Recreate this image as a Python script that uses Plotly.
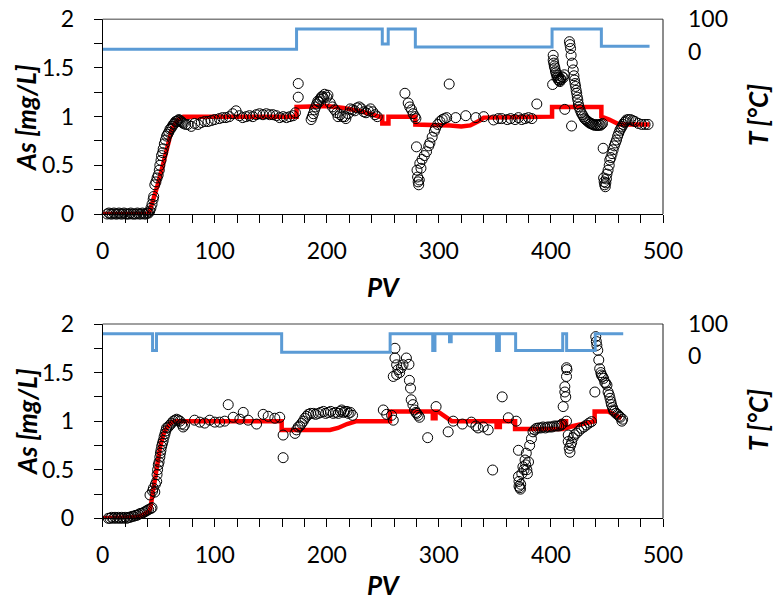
import plotly.graph_objects as go

# ---------------- TOP PANEL DATA ----------------
top_pv = [4, 5.5, 7, 8.5, 10, 11.5, 13, 14.5, 16, 17.5, 19, 20.5, 22, 23.5, 25, 26.5, 28, 29.5, 31, 32.5,
          34, 35.5, 37, 38.5, 40, 41,
          42, 43, 44, 45, 45.5, 46.5, 47.5, 48.5, 49.5, 50.5, 51, 52, 52.5, 53.5, 54, 55, 56, 57, 58, 59,
          60, 61, 62, 63, 64, 65, 66, 67, 68, 69, 70, 71, 72, 74,
          76, 79, 82, 85, 88, 91, 94, 97, 100, 104, 107, 110, 113, 116, 119, 122, 125, 128, 131, 134,
          137, 140, 143, 146, 149, 152, 155, 158, 161, 164, 167, 170, 172, 174.5, 174.5,
          186, 187, 188, 189, 190, 191, 192, 193, 194, 195, 196, 197, 198, 200, 201, 203, 205, 207, 209,
          210, 212, 214, 216, 217, 219, 221, 223, 225, 227, 229, 231, 233, 235, 237, 239, 241, 243, 245,
          269.7, 272.6, 274, 275.6, 277, 278.6, 279.5, 280, 280.5, 281, 281.5, 282, 282.5, 283, 284, 285,
          287, 289, 291, 292, 294, 296, 297, 299, 301, 303, 305, 307, 309.2, 315, 324, 333, 340, 348.8,
          353, 356, 361, 364, 368, 371, 374, 377, 380, 383, 387.4,
          401.5, 402, 402, 402.5, 403, 403.5, 404, 404.5, 405, 405.5, 406, 406.5, 407, 407.5, 408, 408.5,
          409, 410, 411, 412, 412.4, 416.5, 417, 417.5, 418, 418.4, 419, 419.9, 420.5, 421, 421.5, 422,
          422.5, 423, 423.5, 424, 424.5, 425, 426, 427, 428, 429, 430, 431, 432, 433, 434, 435, 436, 437,
          438, 439, 440, 441, 442, 443, 444, 445, 446,
          446.6, 447, 447.5, 448, 448.5, 449, 449.5, 450, 451, 452, 452.5, 453.5, 454.5, 455.5, 456.5,
          457.5, 458.5, 459.5, 460.5, 461.5, 462.5, 463.5, 464.4, 465.5, 466.5, 467.4, 469, 471, 473,
          475, 478, 481, 484, 486.7]
top_as = [0.0, 0.01, 0.0, 0.0, 0.01, 0.0, 0.0, 0.01, 0.0, 0.0, 0.01, 0.0, 0.0, 0.0, 0.01, 0.0, 0.0, 0.0, 0.01, 0.0,
          0.0, 0.01, 0.0, 0.0, 0.01, 0.01,
          0.03, 0.06, 0.1, 0.15, 0.18, 0.3, 0.33, 0.37, 0.4, 0.45, 0.5, 0.55, 0.6, 0.63, 0.67, 0.72, 0.76, 0.8, 0.82, 0.84,
          0.87, 0.88, 0.9, 0.92, 0.93, 0.95, 0.95, 0.96, 0.97, 0.96, 0.95, 0.94, 0.93, 0.92,
          0.92, 0.9, 0.93, 0.92, 0.94, 0.95, 0.95, 0.96, 0.97, 0.98, 0.99, 0.99, 1.0, 1.03, 1.06, 1.01, 0.99, 1.0, 1.01, 1.0,
          1.02, 1.03, 1.02, 1.03, 1.02, 1.02, 1.01, 0.99, 1.0, 0.99, 1.0, 1.01, 1.04, 1.2, 1.34,
          0.97, 1.0, 1.03, 1.07, 1.1, 1.13, 1.16, 1.15, 1.18, 1.2, 1.21, 1.19, 1.23, 1.2, 1.22, 1.14, 1.1, 1.07, 1.04,
          1.0, 1.02, 1.0, 1.0, 0.98, 1.03, 1.08, 1.07, 1.06, 1.09, 1.1, 1.08, 1.05, 1.04, 1.06, 1.08, 1.05, 1.02, 1.0,
          1.24, 1.14, 1.1, 1.07, 1.03, 1.0, 0.98, 0.69, 0.45, 0.38, 0.33, 0.3, 0.35, 0.52, 0.47, 0.56,
          0.6, 0.64, 0.7, 0.73, 0.79, 0.85, 0.88, 0.92, 0.95, 0.97, 0.98, 0.99, 1.335, 0.99, 1.01, 0.99, 1.0, 0.966,
          0.98, 0.98, 0.97, 0.98, 0.97, 0.99, 0.97, 0.98, 0.99, 0.98, 1.13,
          1.33, 1.63, 1.58, 1.55, 1.52, 1.5, 1.47, 1.45, 1.43, 1.4, 1.42, 1.38, 1.4, 1.37, 1.36, 1.39,
          1.38, 1.41, 1.4, 1.43, 1.075, 1.77, 1.74, 1.7, 1.63, 0.904, 1.55, 1.48, 1.42, 1.376, 1.34, 1.31,
          1.27, 1.24, 1.2, 1.17, 1.13, 1.1, 1.07, 1.04, 1.02, 1.0, 0.98, 0.97, 0.96, 0.95, 0.94, 0.93, 0.93, 0.92,
          0.92, 0.91, 0.92, 0.91, 0.91, 0.92, 0.91, 0.92, 0.93,
          0.675, 0.37, 0.33, 0.3, 0.28, 0.32, 0.36, 0.41, 0.45, 0.5, 0.555, 0.58, 0.62, 0.66, 0.7,
          0.73, 0.76, 0.8, 0.83, 0.86, 0.88, 0.9, 0.92, 0.94, 0.95, 0.966, 0.97, 0.97, 0.96,
          0.95, 0.93, 0.92, 0.92, 0.92]

top_model_pv = [0, 40, 42, 45, 49.6, 55.6, 61.5, 64, 67.5, 72, 173, 173, 200, 215, 232, 247, 249.5, 249.5,
                255, 255, 279, 279, 300, 310, 320, 328, 336.5, 340, 401, 401, 445, 445, 452, 461, 488]
top_model_as = [0, 0, 0.03, 0.14, 0.32, 0.59, 0.86, 0.92, 0.97, 1.0, 1.0, 1.1, 1.11, 1.09, 1.05, 1.0, 1.0, 0.93,
                0.93, 1.0, 1.0, 0.92, 0.92, 0.91, 0.9, 0.91, 0.96, 0.99, 1.0, 1.1, 1.1, 1.0, 0.97, 0.92, 0.92]

top_t_pv = [0, 173, 249.5, 254.8, 279, 401, 445, 488]
top_t = [8, 70, 24, 70, 15, 70, 17, 17]

# ---------------- BOTTOM PANEL DATA ----------------
bot_pv = [5, 6.5, 8, 9.5, 11, 12.5, 14, 15.5, 17, 18.5, 20, 21.5, 23, 24.5, 26, 27.5, 29, 30.5, 32, 33.5,
          35, 36.5, 38, 39.5, 41, 43, 44,
          42.2, 44.5, 45.2, 46.5, 47, 48.2, 48.5, 49, 49.6, 50.3, 51, 51.5, 52, 52.6, 53.3, 54, 54.8, 55.6,
          56.3, 57, 58.5, 60, 61.5, 63, 64.5, 66, 67.5, 69, 70.5, 71.8, 73,
          82, 86.6, 91, 95.5, 100, 104.4, 108.9, 112, 116.5, 122.4, 125.4, 129.8, 137.3, 143.2, 147.7,
          153.6, 158, 161, 161,
          171.6, 173, 174.5, 176, 177.5, 179, 180.4, 182, 183.4, 185.5, 188, 190, 192.4, 194.5, 197, 199,
          201.3, 203.5, 205.8, 208, 210.3, 212, 213.2, 215, 216.2, 218, 219.2, 221, 223,
          250.4, 253.4, 257.8, 259.3, 260.8, 260.8, 262.3, 263.5, 259.3, 262.3, 265, 266.5, 268, 271, 273.3,
          273.7, 274.7, 275.3, 276.8, 278.3, 279.5, 280.3, 281.5, 282.7, 290, 297.5, 308.3, 312.8, 321,
          329, 333, 335, 339.6, 344, 348, 356.5, 362, 369,
          371, 371, 371.5, 371.5, 372.3, 372.8, 373, 374, 375, 376, 376.9, 377.5, 378, 378.5, 379, 380,
          381, 382.6, 384, 385.5, 387, 389, 391, 393, 395, 397, 399, 401, 403, 405, 407, 409, 410,
          410.9, 412.4, 412.4, 413.2, 413.9, 413.9, 414.3, 413.9, 415.4, 415.4, 416.3, 417, 417.5, 418.5,
          419.8, 421, 422.8, 425, 427.3, 429.5, 431.7, 434, 436.2, 439.2,
          440, 440.5, 441, 441.8, 442.7, 443.5, 444.5, 445, 446, 447, 448, 449, 450, 451, 452, 452.7,
          453.5, 454, 455, 455.7, 456.5, 458, 459.5, 461, 462, 463.3, 464]
bot_as = [0.0, 0.0, 0.01, 0.0, 0.01, 0.0, 0.01, 0.0, 0.01, 0.0, 0.01, 0.0, 0.01, 0.01, 0.02, 0.02, 0.03, 0.03, 0.04, 0.05,
          0.05, 0.06, 0.07, 0.08, 0.09, 0.1, 0.11,
          0.24, 0.28, 0.31, 0.27, 0.35, 0.38, 0.45, 0.5, 0.55, 0.58, 0.63, 0.67, 0.7, 0.74, 0.77, 0.8, 0.84, 0.87,
          0.9, 0.93, 0.94, 0.96, 0.98, 1.0, 1.01, 1.02, 1.01, 1.0, 0.97, 0.94, 0.96,
          1.01, 0.99, 0.98, 1.01, 0.99, 0.99, 1.0, 1.17, 1.04, 1.02, 1.09, 1.01, 0.97, 1.07, 1.05,
          1.03, 1.04, 0.857, 0.624,
          0.874, 0.91, 0.94, 0.95, 0.977, 1.0, 1.03, 1.05, 1.07, 1.08, 1.08, 1.07, 1.08, 1.09, 1.1, 1.08,
          1.09, 1.1, 1.08, 1.09, 1.08, 1.1, 1.115, 1.09, 1.1, 1.1, 1.08, 1.09, 1.06,
          1.115, 1.07, 1.06, 1.01, 1.75, 1.65, 1.58, 1.53, 1.46, 1.48, 1.5, 1.55, 1.58, 1.65, 1.585,
          1.42, 1.34, 1.22, 1.17, 1.115, 1.09, 1.08, 1.06, 1.04, 0.83, 1.15, 0.89, 1.0, 0.97,
          0.99, 0.95, 0.93, 0.94, 0.91, 0.497, 1.25, 1.035, 1.0,
          0.7, 0.43, 0.38, 0.33, 0.315, 0.3, 0.35, 0.46, 0.53, 0.5, 0.6, 0.55, 0.67, 0.5, 0.46, 0.58,
          0.75, 0.82, 0.89, 0.91, 0.926, 0.93, 0.93, 0.94, 0.93, 0.94, 0.94, 0.94, 0.95, 0.95, 0.95, 0.96, 0.97,
          1.15, 1.3, 1.355, 1.25, 1.46, 1.55, 1.53, 1.0, 0.857, 0.79, 0.72, 0.68, 0.75, 0.78,
          0.83, 0.86, 0.876, 0.9, 0.926, 0.94, 0.96, 0.98, 0.995, 1.3,
          1.87, 1.82, 1.78, 1.73, 1.63, 1.54, 1.5, 1.475, 1.46, 1.44, 1.4, 1.39, 1.37, 1.3, 1.27, 1.235,
          1.2, 1.17, 1.14, 1.115, 1.1, 1.08, 1.07, 1.05, 1.04, 1.0, 1.02]

bot_model_pv = [0, 25, 30, 35, 38, 41, 42.5, 45.2, 48.2, 51, 54, 57, 61.5, 66, 159.7, 159.7, 202.8, 210,
                218, 226.6, 256.3, 256.3, 294.6, 294.6, 297, 297, 299, 311.5, 351.5, 351.5, 354.4, 354.4,
                368, 368, 409.5, 409.5, 413.5, 413.5, 420, 434, 439, 439, 451, 463]
bot_model_as = [0, 0, 0.01, 0.03, 0.045, 0.07, 0.1, 0.31, 0.5, 0.72, 0.86, 0.93, 0.99, 1.0, 1.0, 0.91, 0.91, 0.93,
                0.97, 1.0, 1.0, 1.1, 1.1, 1.03, 1.03, 1.1, 1.1, 1.0, 1.0, 0.94, 0.94, 1.0,
                1.0, 0.92, 0.92, 1.0, 1.0, 0.93, 0.95, 0.99, 1.0, 1.1, 1.1, 1.03]

bot_t_pv = [0, 44.5, 48, 159.7, 256.5, 294.5, 296.5, 309.5, 311, 351.5, 354, 368.5, 410.5, 414, 439.5, 464.5]
bot_t = [70, 18, 70, 13, 70, 18, 70, 45, 70, 18, 70, 18, 70, 18, 70, 70]

x_ticks = [0, 100, 200, 300, 400, 500]
y_ticks = [0, 0.5, 1, 1.5, 2]
t_ticks = [0, 100]

# ---------------- FIGURE ----------------
FONT = "Lato"
RED = "#FF0000"
BLUE = "#5B9BD5"

fig = go.Figure()

def add_panel(xa, ya, ta, m_pv, m_as, d_pv, d_as, t_pv, t_val):
    fig.add_trace(go.Scatter(x=m_pv, y=m_as, mode="lines", xaxis=xa, yaxis=ya,
                             line=dict(color=RED, width=4.5), cliponaxis=False))
    fig.add_trace(go.Scatter(x=d_pv, y=d_as, mode="markers", xaxis=xa, yaxis=ya,
                             marker=dict(symbol="circle-open", size=10, color="black",
                                         line=dict(width=1, color="black")),
                             cliponaxis=False))
    fig.add_trace(go.Scatter(x=t_pv, y=t_val, mode="lines", xaxis=xa, yaxis=ta,
                             line=dict(color=BLUE, width=3, shape="hv"), cliponaxis=False))

add_panel("x", "y", "y2", top_model_pv, top_model_as, top_pv, top_as, top_t_pv, top_t)
add_panel("x2", "y3", "y4", bot_model_pv, bot_model_as, bot_pv, bot_as, bot_t_pv, bot_t)

XD = [102.7 / 774, 663 / 774]
TOP_D = [1 - 214 / 601, 1 - 19.3 / 601]
BOT_D = [1 - 518.3 / 601, 1 - 324 / 601]

tickfont = dict(family=FONT, size=23, color="black")

def xaxis(anchor):
    return dict(domain=XD, range=[0, 500], anchor=anchor, showline=True, linecolor="black",
                linewidth=1, ticks="outside", ticklen=8, tickcolor="black", tickvals=x_ticks,
                minor=dict(dtick=20, tick0=0, ticks="outside", ticklen=8, tickcolor="black"),
                showgrid=False, zeroline=False, tickfont=tickfont, ticklabelstandoff=8,
                automargin=False)

def yaxis(anchor, dom):
    return dict(domain=dom, range=[0, 2], anchor=anchor, showline=True, linecolor="black",
                linewidth=1, ticks="outside", ticklen=8, tickcolor="black", tickvals=y_ticks,
                minor=dict(dtick=0.25, tick0=0, ticks="outside", ticklen=8, tickcolor="black"),
                showgrid=False, zeroline=False, tickfont=tickfont, ticklabelstandoff=15,
                automargin=False)

def taxis(anchor, over):
    return dict(overlaying=over, side="right", anchor=anchor, range=[-500, 100], tickvals=t_ticks,
                showline=False, ticks="", showgrid=False, zeroline=False, tickfont=tickfont,
                ticklabelstandoff=24, automargin=False)

fig.update_layout(
    width=774, height=601, margin=dict(l=0, r=0, t=0, b=0, autoexpand=False),
    paper_bgcolor="white", plot_bgcolor="white", showlegend=False,
    xaxis=xaxis("y"), yaxis=yaxis("x", TOP_D), yaxis2=taxis("x", "y"),
    xaxis2=xaxis("y3"), yaxis3=yaxis("x2", BOT_D), yaxis4=taxis("x2", "y3"),
)

shapes = []
for d in (TOP_D, BOT_D):
    shapes.append(dict(type="line", xref="paper", yref="paper", x0=XD[0], x1=XD[1], y0=d[1], y1=d[1],
                       line=dict(color="#808080", width=1.5)))
    shapes.append(dict(type="line", xref="paper", yref="paper", x0=XD[1], x1=XD[1], y0=d[0], y1=d[1],
                       line=dict(color="#1a1a1a", width=1)))
fig.update_layout(shapes=shapes)

tfont = dict(family=FONT, size=26, color="black")
ann = [
    ("<b><i>As [mg/L]</i></b>", 26, 118, -90),
    ("<b><i>As [mg/L]</i></b>", 27, 422, -90),
    ("<b><i>PV</i></b>", 384, 287, 0),
    ("<b><i>PV</i></b>", 384, 585, 0),
    ("<b><i>T [°C]</i></b>", 758, 115, -90),
    ("<b><i>T [°C]</i></b>", 758, 420, -90),
]
for text, px, py, ang in ann:
    fig.add_annotation(text=text, x=px / 774, y=1 - py / 601, xref="paper", yref="paper",
                       xanchor="center", yanchor="middle", showarrow=False, textangle=ang, font=tfont)

fig.write_html("out.html", config={"displayModeBar": False},
               post_script="document.body.style.margin='0';document.body.style.overflow='hidden';")
